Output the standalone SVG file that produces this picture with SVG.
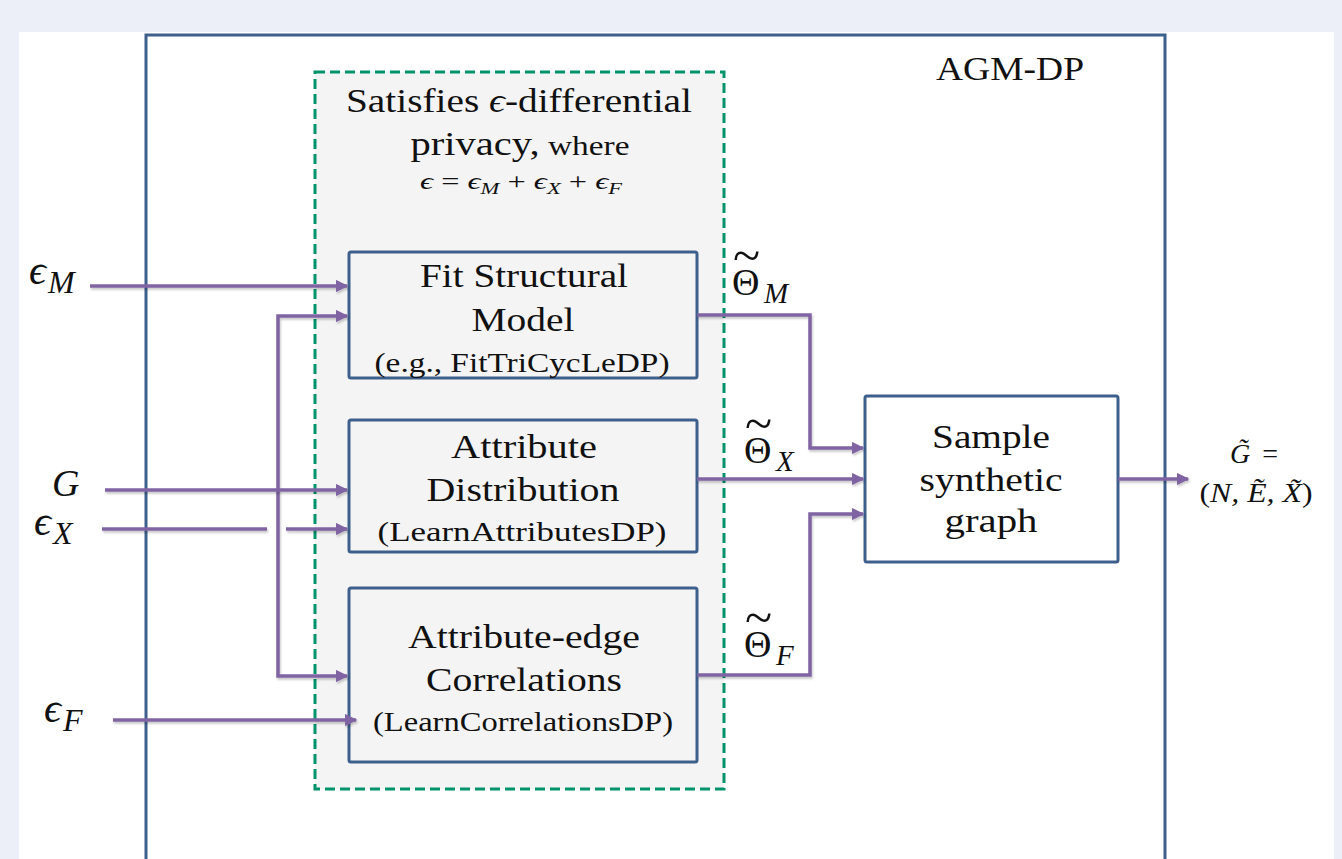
<svg xmlns="http://www.w3.org/2000/svg" width="1342" height="859" viewBox="0 0 1342 859">
  <style>
    .box { fill: #f4f4f4; stroke: #3d5f8c; stroke-width: 3; }
    .frame { fill: none; stroke: #3d5f8c; stroke-width: 3; }
    .wire { fill: none; stroke: #8064a2; stroke-width: 3.5; filter: url(#shade); }
    .t { font-family: "Liberation Serif", "Times New Roman", serif; fill: #111; text-anchor: middle; }
    .m { font-family: "Liberation Serif", "DejaVu Serif", serif; font-style: italic; fill: #111; }
    .up { font-style: normal; }
    .big { font-size: 34px; }
    .small { font-size: 27px; }
    .theta { font-family: "Liberation Serif", "DejaVu Serif", serif; font-size: 38px; fill: #111; }
  </style>
  <defs>
    <marker id="arr" viewBox="0 0 10 10" refX="9" refY="5" markerWidth="3.6" markerHeight="3.6" orient="auto" markerUnits="strokeWidth">
      <path d="M0,0 L10,5 L0,10 z" fill="#8064a2"/>
    </marker>
    <filter id="shade" filterUnits="userSpaceOnUse" x="0" y="0" width="1342" height="859">
      <feDropShadow dx="1" dy="2" stdDeviation="1.2" flood-color="#000" flood-opacity="0.22"/>
    </filter>
  </defs>

  <!-- page background -->
  <rect x="0" y="0" width="1342" height="859" fill="#eceff7"/>
  <rect x="19" y="32" width="1315" height="827" fill="#ffffff"/>

  <!-- AGM-DP frame -->
  <g id="agm-dp">
    <path class="frame" d="M146,870 L146,35 L1165,35 L1165,870"/>
    <text class="t big" x="1010" y="80" textLength="148" lengthAdjust="spacingAndGlyphs">AGM-DP</text>
  </g>

  <!-- privacy region -->
  <g id="dp-region">
    <rect x="315" y="72" width="409" height="717" fill="#f4f4f4" stroke="#00926b" stroke-width="3" stroke-dasharray="10,5"/>
    <text class="t big" x="519" y="112" textLength="346" lengthAdjust="spacingAndGlyphs">Satisfies <tspan class="m">ϵ</tspan>-differential</text>
    <text class="t" x="520" y="155" textLength="219" lengthAdjust="spacingAndGlyphs"><tspan class="big">privacy,</tspan><tspan font-size="28px"> where</tspan></text>
    <text class="m" x="521" y="189" font-size="23px" text-anchor="middle" textLength="202" lengthAdjust="spacingAndGlyphs">ϵ <tspan class="up">=</tspan> ϵ<tspan font-size="16px" dy="5">M</tspan><tspan class="up" dy="-5"> + </tspan>ϵ<tspan font-size="16px" dy="5">X</tspan><tspan class="up" dy="-5"> + </tspan>ϵ<tspan font-size="16px" dy="5">F</tspan></text>
  </g>

  <g id="fit-model">
    <rect class="box" x="349" y="252" width="348" height="126" rx="2"/>
    <text class="t big" x="524" y="287" textLength="208" lengthAdjust="spacingAndGlyphs">Fit Structural</text>
    <text class="t big" x="523" y="331" textLength="103" lengthAdjust="spacingAndGlyphs">Model</text>
    <text class="t small" x="522" y="372" textLength="295" lengthAdjust="spacingAndGlyphs">(e.g., FitTriCycLeDP)</text>
  </g>

  <g id="attr-dist">
    <rect class="box" x="349" y="420" width="348" height="132" rx="2"/>
    <text class="t big" x="524" y="458" textLength="146" lengthAdjust="spacingAndGlyphs">Attribute</text>
    <text class="t big" x="523" y="501" textLength="193" lengthAdjust="spacingAndGlyphs">Distribution</text>
    <text class="t small" x="522" y="541" textLength="289" lengthAdjust="spacingAndGlyphs">(LearnAttributesDP)</text>
  </g>

  <g id="attr-edge">
    <rect class="box" x="349" y="588" width="348" height="174" rx="2"/>
    <text class="t big" x="524" y="648" textLength="232" lengthAdjust="spacingAndGlyphs">Attribute-edge</text>
    <text class="t big" x="524" y="691" textLength="196" lengthAdjust="spacingAndGlyphs">Correlations</text>
    <text class="t small" x="523" y="731" textLength="300" lengthAdjust="spacingAndGlyphs">(LearnCorrelationsDP)</text>
  </g>

  <g id="sample">
    <rect x="865" y="396" width="253" height="166" rx="2" fill="#ffffff" stroke="#3d5f8c" stroke-width="3"/>
    <text class="t big" x="991" y="448" textLength="118" lengthAdjust="spacingAndGlyphs">Sample</text>
    <text class="t big" x="991" y="491" textLength="143" lengthAdjust="spacingAndGlyphs">synthetic</text>
    <text class="t big" x="991" y="532" textLength="93" lengthAdjust="spacingAndGlyphs">graph</text>
  </g>

  <!-- input labels -->
  <g id="inputs">
    <text class="m" x="29" y="284" font-size="42px">ϵ<tspan font-size="32px" dx="2" dy="9">M</tspan></text>
    <text class="m" x="52" y="496" font-size="38px">G</text>
    <text class="m" x="34" y="535" font-size="42px">ϵ<tspan font-size="32px" dx="2" dy="9">X</tspan></text>
    <text class="m" x="44" y="722" font-size="42px">ϵ<tspan font-size="32px" dx="2" dy="9">F</tspan></text>
  </g>

  <!-- estimated parameters: tilde-Theta with subscript -->
  <g id="params">
    <text class="theta" x="732" y="295">Θ<tspan x="733" y="272" font-size="50px">~</tspan><tspan class="m" x="764" y="303" font-size="29px">M</tspan></text>
    <text class="theta" x="744" y="463">Θ<tspan x="745" y="440" font-size="50px">~</tspan><tspan class="m" x="776" y="471" font-size="29px">X</tspan></text>
    <text class="theta" x="744" y="657">Θ<tspan x="745" y="634" font-size="50px">~</tspan><tspan class="m" x="776" y="665" font-size="29px">F</tspan></text>
  </g>

  <!-- output label -->
  <g id="output">
    <text class="m" x="1230" y="463" font-size="28px">G̃<tspan class="up" dx="12">=</tspan></text>
    <text class="m" x="1256" y="502" font-size="27px" text-anchor="middle" textLength="113" lengthAdjust="spacingAndGlyphs"><tspan class="up">(</tspan>N, Ẽ, X̃<tspan class="up">)</tspan></text>
  </g>

  <!-- connectors -->
  <g id="connectors">
    <path class="wire" d="M90,286 L347,286" marker-end="url(#arr)"/>
    <path class="wire" d="M278,500 L278,316 L347,316" marker-end="url(#arr)"/>
    <path class="wire" d="M278,500 L278,676 L347,676" marker-end="url(#arr)"/>
    <path class="wire" d="M105,490 L347,490" marker-end="url(#arr)"/>
    <path class="wire" d="M102,529 L267,529"/>
    <path class="wire" d="M286,529 L347,529" marker-end="url(#arr)"/>
    <path class="wire" d="M113,720 L356,720" marker-end="url(#arr)"/>
    <path class="wire" d="M697,315 L810,315 L810,448 L863,448" marker-end="url(#arr)"/>
    <path class="wire" d="M697,479 L863,479" marker-end="url(#arr)"/>
    <path class="wire" d="M697,675 L810,675 L810,514 L863,514" marker-end="url(#arr)"/>
    <path class="wire" d="M1118,479 L1188,479" marker-end="url(#arr)"/>
  </g>
</svg>
